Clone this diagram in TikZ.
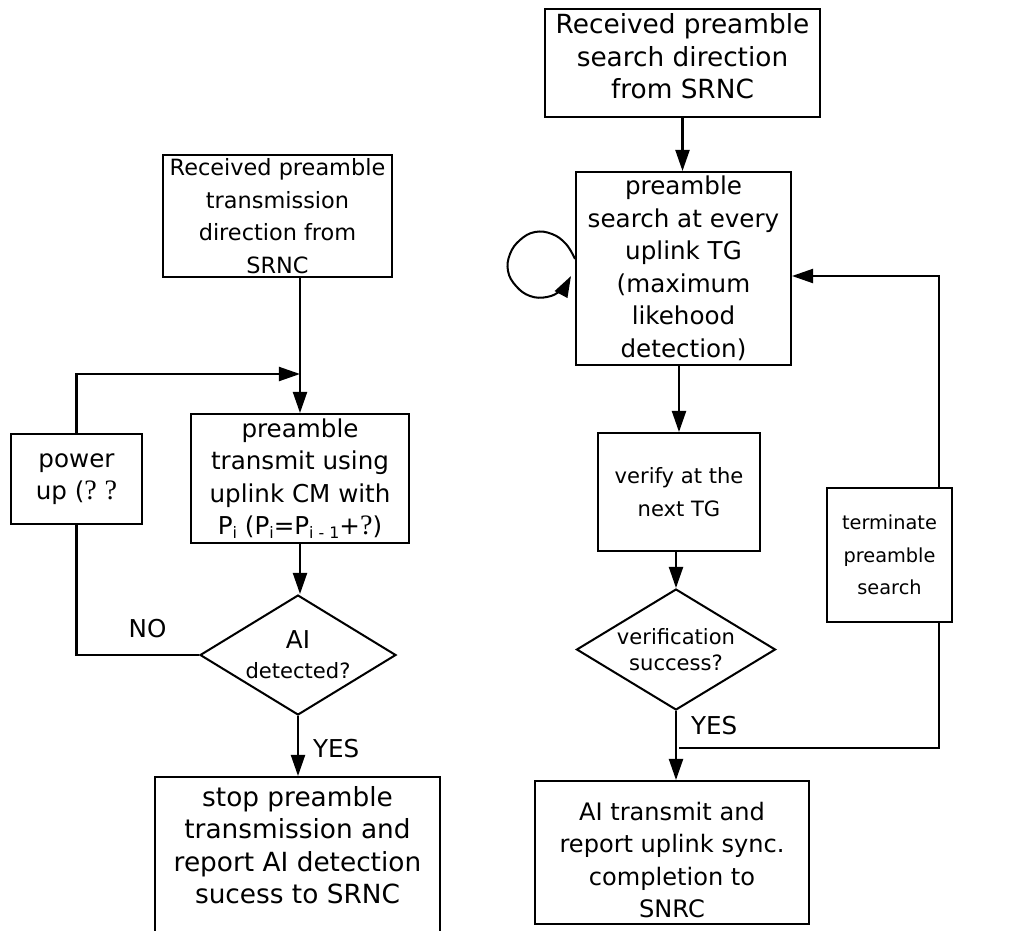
\documentclass[tikz,border=0pt]{standalone}
\usepackage{fontspec}
\setmainfont{DejaVu Sans}
\newfontfamily\qfont{Liberation Serif}
\usetikzlibrary{arrows.meta,shapes.geometric}
\newcommand{\lowidx}[1]{\raisebox{-0.3ex}{\fontsize{9}{9}\selectfont #1}}
\newcommand{\qm}{{\qfont\fontsize{16}{16}\selectfont ?}}

\begin{document}
\begin{tikzpicture}[
  x=0.02cm, y=-0.02cm,
  line width=1.15pt,
  box/.style={draw, align=center, inner sep=0pt,
              font=\fontsize{#1}{18.5}\selectfont},
  box/.default=14,
  dec/.style={draw, diamond, aspect=1.63, inner sep=0pt, align=center,
              font=\fontsize{12}{15}\selectfont},
  arr/.style={-{Triangle[length=12pt,width=8pt]}},
  lbl/.style={font=\fontsize{14}{16}\selectfont, inner sep=0pt},
]
\useasboundingbox (0,0) rectangle (1034,930);

% ---------------- transmission side -------------------------------------
\node[box=12.75, minimum width=4.58cm, minimum height=2.44cm] (rx1) at (277.5,216)
  {Received preamble\\transmission\\direction from\\SRNC};
\node[box, minimum width=4.36cm, minimum height=2.58cm] (tx) at (300,478.5)
  {preamble\\transmit using\\uplink CM with\\P\lowidx{i} (P\lowidx{i}=P\lowidx{i - 1}+\qm)};
\node[box, minimum width=2.62cm, minimum height=1.8cm] (pwr) at (76.5,479)
  {power\\up (\qm\ \qm};
\node[dec, minimum width=3.92cm, minimum height=2.4cm, font=\fontsize{12}{17}\selectfont]
  (det) at (298,655) {{\fontsize{14}{17}\selectfont AI}\\detected?};
\node[box=15, anchor=north, minimum width=5.7cm, text height=16.5pt, text depth=80pt]
  (stop) at (297.5,776)
  {\begin{tabular}[t]{@{}c@{}}stop preamble\\transmission and\\report AI detection\\sucess to SRNC\end{tabular}};

\coordinate (up) at (76.5,374);
\draw[arr] (tx.north |- rx1.south) -- (tx.north);
\draw[arr] (pwr.north) -- (pwr.north |- up) -- (tx.north |- up);
\draw[arr] (tx.south) -- (tx.south |- det.north);
\draw (det.west) -- node[lbl, pos=0.42, anchor=south, yshift=9pt] {NO}
  (pwr.south |- det.west) -- (pwr.south);
\draw[arr] (det.south) -- node[lbl, pos=0.54, anchor=west, xshift=8pt] {YES}
  (det.south |- stop.north);

% ---------------- search side -------------------------------------------
\node[box=15, anchor=north, minimum width=5.5cm, text height=14.2pt, text depth=47.2pt]
  (rxs) at (682.5,8)
  {\begin{tabular}[t]{@{}c@{}}Received preamble\\search direction\\from SRNC\end{tabular}};
\node[box, minimum width=4.3cm, minimum height=3.86cm] (srch) at (683.5,268.5)
  {preamble\\search at every\\uplink TG\\(maximum\\likehood\\detection)};
\node[box=12, minimum width=3.24cm, minimum height=2.36cm] (ver) at (679,492)
  {verify at the\\next TG};
\node[dec, minimum width=3.98cm, minimum height=2.42cm] (vd) at (676,649.5)
  {verification\\success?};
\node[box=13.7, anchor=north, minimum width=5.48cm, text height=22.2pt, text depth=59.2pt]
  (ait) at (672,780)
  {\begin{tabular}[t]{@{}c@{}}AI transmit and\\report uplink sync.\\completion to\\SNRC\end{tabular}};
\node[box=11, minimum width=2.5cm, minimum height=2.68cm] (term) at (889.5,555)
  {terminate\\preamble\\search};

\coordinate (jn) at (679,748);
\coordinate (tb) at (939,748);
\coordinate (tt) at (939,276);
\draw[arr] (rxs.south) -- (rxs.south |- srch.north);
\draw[arr] (ver.north |- srch.south) -- (ver.north);
\draw[arr] (vd.north |- ver.south) -- (vd.north);
\draw[arr] (vd.south) -- node[lbl, pos=0.21, anchor=west, xshift=8pt] {YES}
  (vd.south |- ait.north);
\draw (jn) -- (tb) -- (tb |- term.south);
\draw[arr] (tb |- term.north) -- (tt) -- (srch.east |- tt);

% self loop
\draw[arr] plot[smooth, tension=0.7] coordinates {(575,259) (566,244) (552,234)
  (535,232) (520,240) (510,254) (508,271) (516,286) (530,296) (547,297)
  (561,290) (571,276)};

\end{tikzpicture}
\end{document}
